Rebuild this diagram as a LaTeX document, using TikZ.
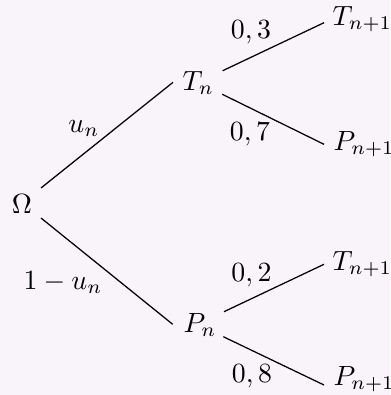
\documentclass[tikz,border=0pt]{standalone}
\usetikzlibrary{calc}
\definecolor{bgc}{HTML}{F8F4FA}
\begin{document}
\begin{tikzpicture}[x={(0.36pt,0)},y={(0,-0.36pt)},
  lbl/.style={anchor=base,inner sep=0pt},
  leaf/.style={anchor=base west,inner sep=0pt},
  br/.style={line width=0.45pt}]
\fill[bgc] (0,0) rectangle (390,395);
\useasboundingbox (0,0) rectangle (390,395);
% nodes
\node[lbl] (O) at (22,213) {$\Omega$};
\node[leaf] (Tn) at (182,90) {$T_n$};
\node[leaf] (Pn) at (183,332) {$P_n$};
\node[leaf] (T1) at (332,25) {$T_{n+1}$};
\node[leaf] (P1) at (333,150) {$P_{n+1}$};
\node[leaf] (T2) at (332,270) {$T_{n+1}$};
\node[leaf] (P2) at (333,385) {$P_{n+1}$};
% branches
\draw[br] ($(O.base)+(19,-25)$) -- ($(Tn.base west)+(-9,-7.7)$);
\draw[br] ($(O.base)+(19,5)$) -- ($(Pn.base west)+(-10.3,-7.7)$);
\draw[br] ($(Tn.base west)+(40.7,-19.3)$) -- ($(T1.base west)+(-8,-2.3)$);
\draw[br] ($(Tn.base west)+(40.3,4.3)$) -- ($(P1.base west)+(-9,-5.7)$);
\draw[br] ($(Pn.base west)+(41,-20.3)$) -- ($(T2.base west)+(-8,-5.7)$);
\draw[br] ($(Pn.base west)+(40.3,4.7)$) -- ($(P2.base west)+(-9,0)$);
% labels
\node[lbl] (lu) at (84,132) {$u_n$};
\node[lbl] (lv) at (63,289) {$1-u_n$};
\node[lbl] (l3) at (251,38) {$0,3$};
\node[lbl] (l7) at (250,140) {$0,7$};
\node[lbl] (l2) at (251.5,281) {$0,2$};
\node[lbl] (l8) at (252,382) {$0,8$};
\end{tikzpicture}
\end{document}
